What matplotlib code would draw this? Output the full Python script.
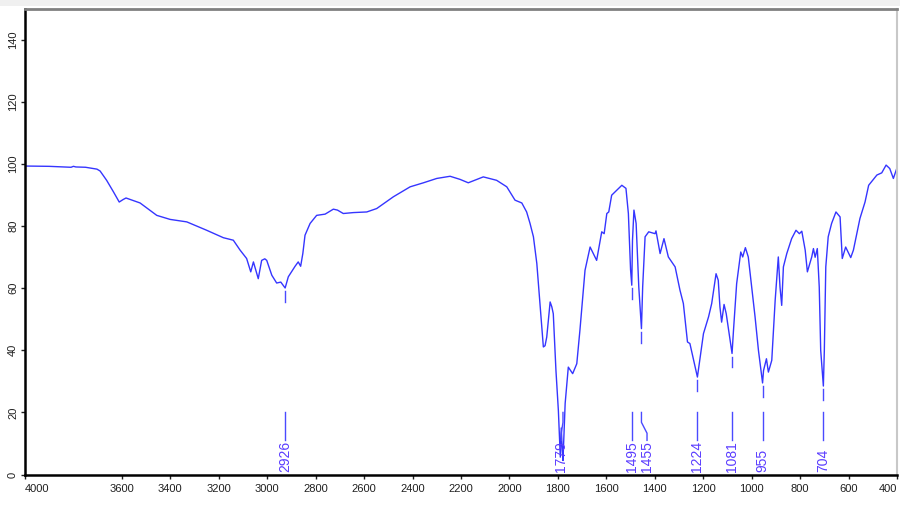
import matplotlib
matplotlib.use('Agg')
import matplotlib.pyplot as plt
from matplotlib.patches import Rectangle

# spectrum (wavenumber in cm-1, transmittance in %)
wavenumber = [4000, 3900, 3810, 3800, 3790, 3750, 3703, 3690, 3663, 3635, 3611, 3595, 3583,
              3525, 3456, 3401, 3332, 3250, 3181, 3140, 3112, 3085, 3068, 3057, 3047, 3037,
              3023, 3010, 3002, 2981, 2961, 2944, 2926, 2913, 2885, 2872, 2862, 2853, 2844,
              2823, 2796, 2761, 2727, 2710, 2686, 2644, 2589, 2548, 2479, 2410, 2355, 2300,
              2245, 2204, 2170, 2108, 2053, 2011, 1977, 1949, 1929, 1915, 1901, 1887, 1874,
              1860, 1853, 1846, 1832, 1825, 1819, 1808, 1798, 1790, 1786, 1782, 1779, 1774,
              1770, 1757, 1739, 1722, 1709, 1688, 1667, 1640, 1619, 1609, 1598, 1590, 1578,
              1536, 1519, 1509, 1500, 1495, 1492, 1486, 1477, 1466, 1455, 1450, 1440, 1425,
              1399, 1395, 1378, 1362, 1344, 1316, 1296, 1282, 1265, 1255, 1224, 1199, 1178,
              1165, 1147, 1138, 1131, 1124, 1114, 1105, 1081, 1075, 1062, 1045, 1037, 1026,
              1014, 1000, 986, 972, 955, 951, 939, 931, 917, 903, 890, 883, 876, 869, 855,
              835, 817, 803, 793, 779, 770, 752, 745, 738, 729, 721, 715, 704, 700, 694, 684,
              670, 652, 635, 626, 612, 591, 580, 553, 532, 517, 483, 463, 445, 430, 415, 401]
transmittance = [99.4, 99.3, 99.0, 99.3, 99.1, 99.0, 98.4, 97.8, 94.8, 91.1, 87.8, 88.6, 89.1,
                 87.5, 83.5, 82.2, 81.4, 78.7, 76.3, 75.5, 72.3, 69.6, 65.3, 68.5, 65.8, 63.1,
                 69.0, 69.5, 69.0, 64.2, 61.7, 62.0, 60.1, 63.7, 67.1, 68.5, 67.1, 71.2, 77.1,
                 80.9, 83.5, 83.9, 85.5, 85.2, 84.1, 84.4, 84.6, 85.7, 89.5, 92.7, 94.0, 95.4,
                 96.1, 95.1, 94.0, 95.9, 94.8, 92.7, 88.4, 87.5, 84.6, 80.9, 76.6, 68.0, 55.1,
                 41.1, 41.5, 44.3, 55.6, 54.0, 51.8, 33.5, 20.6, 5.6, 15.0, 8.0, 4.5, 15.0,
                 22.9, 34.6, 32.5, 35.7, 46.5, 65.8, 73.3, 69.0, 78.2, 77.6, 84.1, 84.6, 90.0,
                 93.2, 92.2, 84.1, 66.0, 61.0, 75.5, 85.2, 80.9, 60.4, 47.0, 60.4, 76.6, 78.2,
                 77.6, 78.5, 71.2, 76.0, 70.1, 66.9, 59.4, 55.1, 42.7, 42.2, 31.4, 45.4, 50.8,
                 55.1, 64.7, 62.6, 54.0, 49.1, 54.8, 51.8, 39.0, 46.5, 61.5, 71.7, 70.1, 73.1,
                 70.1, 60.4, 50.8, 40.0, 29.5, 33.5, 37.3, 33.0, 36.8, 56.1, 70.1, 60.4, 54.5,
                 66.9, 71.2, 76.0, 78.7, 77.6, 78.4, 72.3, 65.3, 70.1, 72.8, 70.0, 72.8, 60.4,
                 40.0, 28.5, 40.0, 66.9, 76.6, 80.9, 84.6, 83.0, 69.6, 73.3, 69.9, 72.3, 82.5,
                 87.8, 93.2, 96.5, 97.2, 99.7, 98.6, 95.4, 98.6]

# labelled peaks
peak_wn = [2926, 1779, 1495, 1455, 1224, 1081, 955, 704]
peak_min = [60.1, 4.5, 61.0, 47.0, 31.4, 39.0, 29.5, 28.5]
peak_text_wn = [2926, 1786, 1495, 1432, 1224, 1081, 955, 704]

x_ticks = [4000, 3600, 3400, 3200, 3000, 2800, 2600, 2400, 2200, 2000,
           1800, 1600, 1400, 1200, 1000, 800, 600, 400]
y_ticks = [0, 20, 40, 60, 80, 100, 120, 140]

W, H = 900, 508
fig = plt.figure(figsize=(W / 100, H / 100), dpi=100)
fig.patch.set_facecolor('white')
# window strip on top
fig.patches.append(Rectangle((0, (H - 6) / H), 1, 6 / H, transform=fig.transFigure,
                             facecolor='#f0f0f0', edgecolor='none', zorder=0))

ax = fig.add_axes([25 / W, (H - 474.5) / H, 872 / W, 465.5 / H])
ax.set_xlim(4000, 400)
ax.set_ylim(0, 150)

line_col = '#3535ff'
mark_col = '#4a4aff'
lab_col = '#5a3cff'
ax.plot(wavenumber, transmittance, color=line_col, lw=1.0)

for wn, tmin, twn in zip(peak_wn, peak_min, peak_text_wn):
    # dash right below the band
    if wn != 1779:
        ax.plot([wn, wn], [tmin - 1.0, tmin - 4.5], color=mark_col, lw=1.0)
    if twn == wn:
        ax.plot([wn, wn], [20, 11], color=mark_col, lw=1.0)
    else:
        ax.plot([wn, wn, twn, twn], [20, 16.8, 13.3, 11], color=mark_col, lw=1.0)
    ax.text(twn, 0.7, str(wn), rotation=90, ha='center', va='bottom',
            color=lab_col, fontsize=10, family='Liberation Sans')

ax.set_xticks(x_ticks)
ax.set_xticklabels([str(v) for v in x_ticks])
ax.set_yticks(y_ticks)
ax.set_yticklabels([str(v) for v in y_ticks], rotation=90, va='center')
labs = ax.get_xticklabels()
labs[0].set_ha('left')
labs[-1].set_ha('right')

ax.tick_params(axis='both', direction='out', length=3, width=1, colors='#202020',
               labelsize=8, pad=2)
ax.tick_params(axis='x', pad=4)
for t in ax.get_xticklabels() + ax.get_yticklabels():
    t.set_family('Liberation Sans')

ax.spines['left'].set_linewidth(1.8)
ax.spines['bottom'].set_linewidth(1.8)
ax.spines['left'].set_color('black')
ax.spines['bottom'].set_color('black')
ax.spines['top'].set_color('#808080')
ax.spines['top'].set_linewidth(2)
ax.spines['right'].set_color('#c8c8c8')
ax.spines['right'].set_linewidth(1.5)

fig.savefig('out.png', dpi=100)
